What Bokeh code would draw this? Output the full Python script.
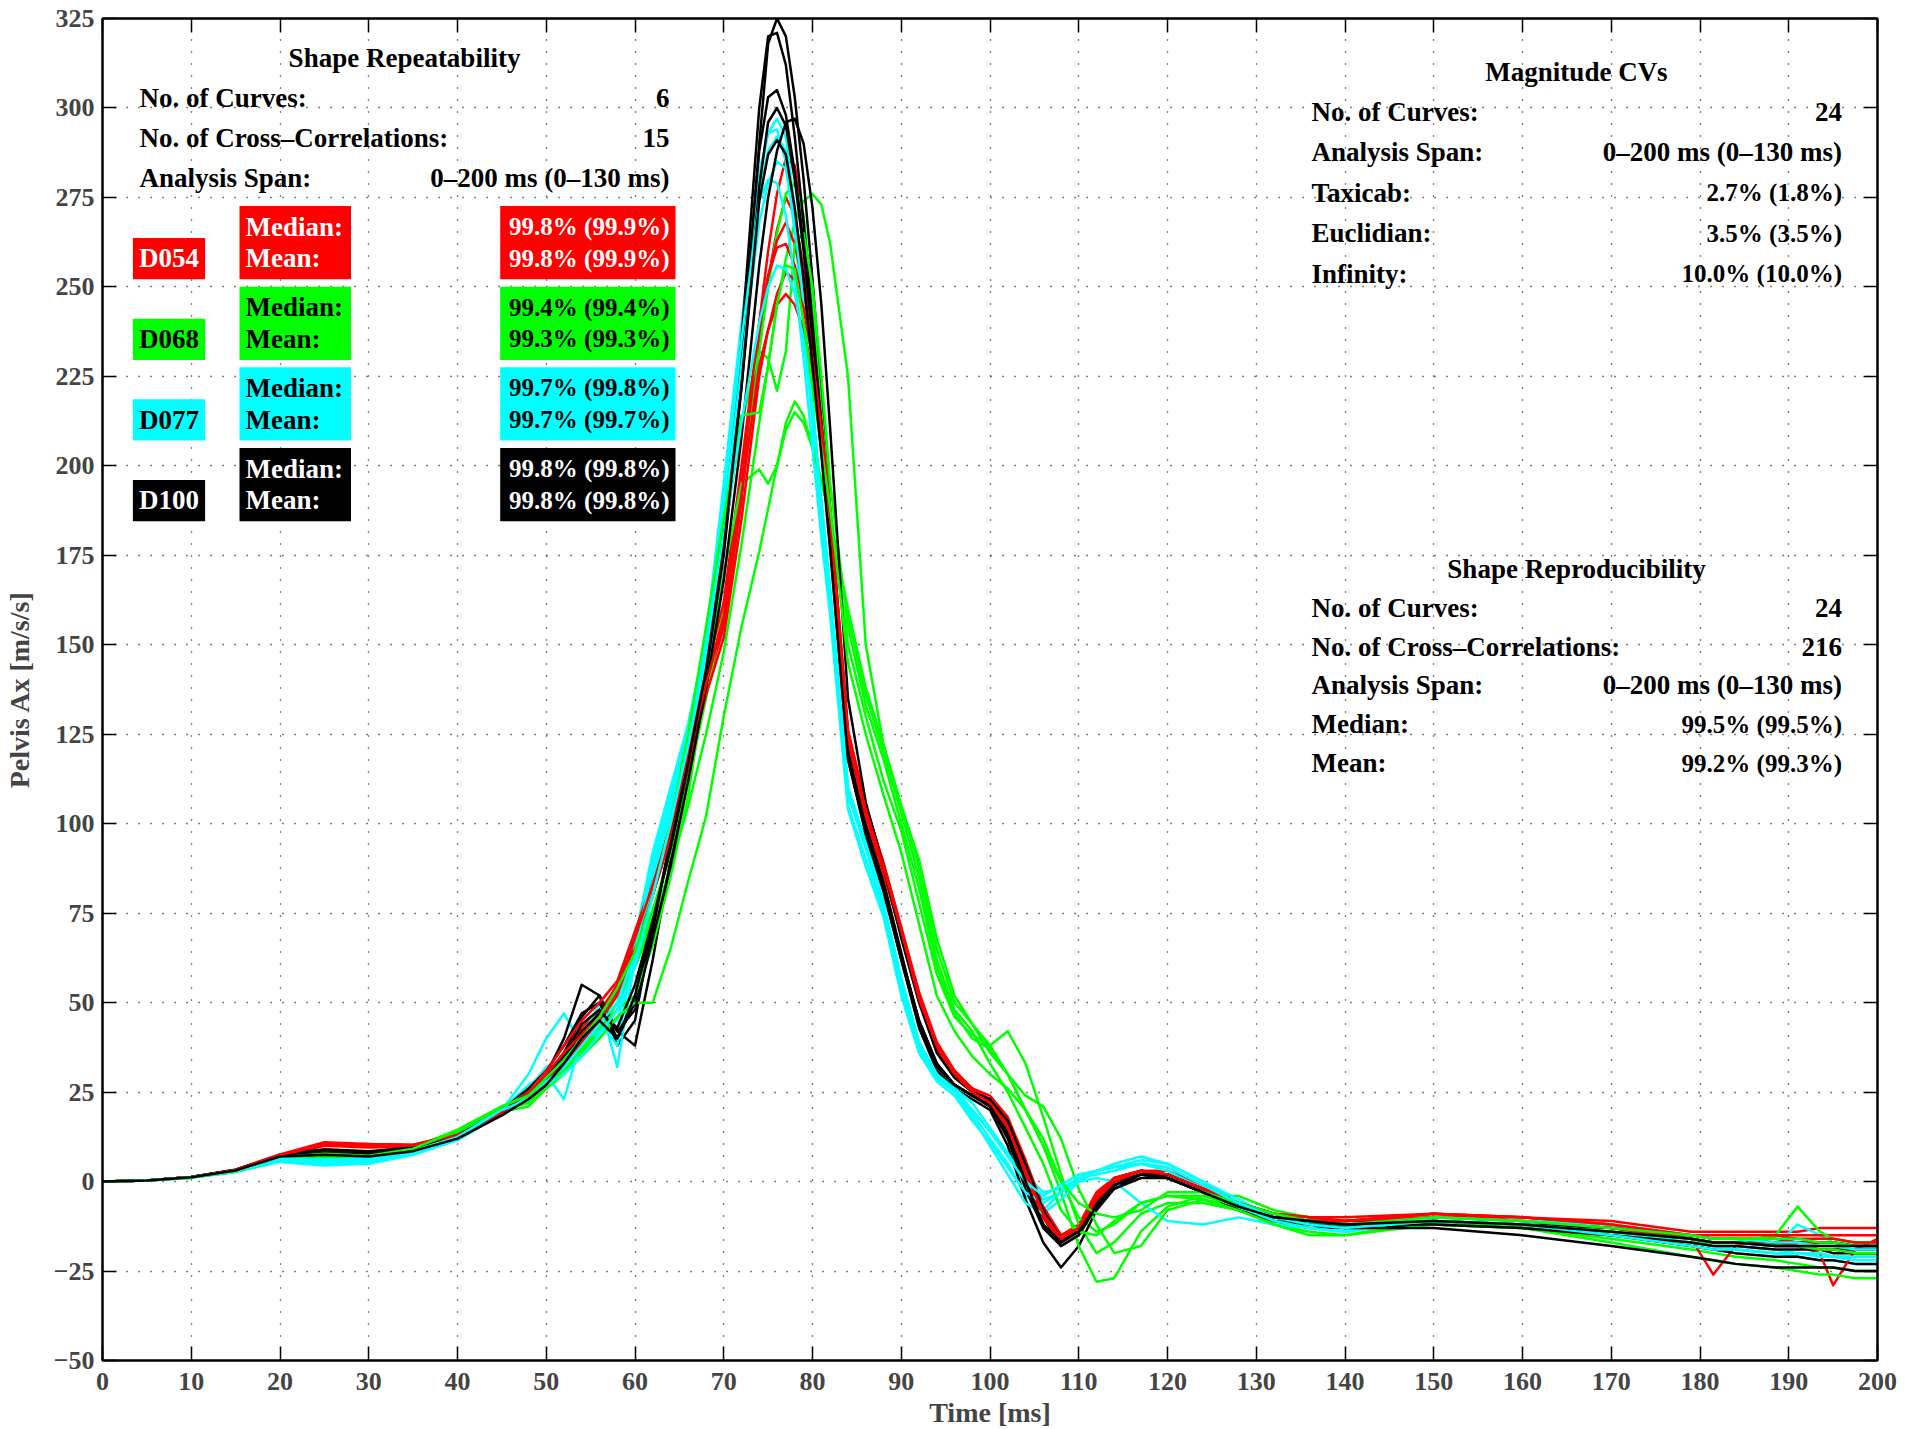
from bokeh.plotting import figure
from bokeh.models import LinearAxis, Range1d, FixedTicker, Label, BoxAnnotation
from bokeh.embed import file_html
from bokeh.resources import INLINE

# ---------------- data ----------------
T = [0, 5, 10, 15, 20, 25, 30, 35, 40, 45,
     48, 50, 52, 54, 56, 58,
     60, 62, 64, 66, 68,
     70, 72, 74, 75, 76, 77, 78, 79, 80, 81, 82,
     84, 86, 88, 90, 92, 94, 96, 98,
     100, 102, 104, 106, 108, 110, 112, 114, 117, 120,
     124, 128, 132, 136, 140,
     150, 160, 170, 179, 181.5, 184, 188.5, 191, 193.5, 195, 197.5, 200]

# D054 (red)
r1 = [0, 0.3, 1.3, 3.3, 7.5, 10.5, 10, 10, 13, 19,
      24, 29, 34, 40, 47, 55,
      68, 82, 98, 118, 138,
      155, 190, 240, 260, 276, 286, 284, 268, 242, 215, 188,
      125, 104, 88, 70, 52, 38, 30, 26,
      23, 17, 5, -8, -15, -12, -3, 1, 3, 2,
      -2, -7, -10, -11, -11,
      -9, -10, -11, -14, -14, -14, -14, -14, -13, -13, -13, -13]
r2 = [0, 0.3, 1.3, 3.2, 7.3, 10.2, 10.5, 10.2, 13, 19,
      25, 30, 36, 43, 48, 54,
      66, 80, 97, 117, 137,
      156, 192, 235, 252, 266, 275, 270, 255, 236, 212, 187,
      126, 105, 89, 71, 53, 39, 31, 26,
      23, 16, 3, -10, -17, -14, -5, 0, 3, 2,
      -2, -6, -9, -10, -10,
      -9, -10, -12, -16, -26, -18, -15, -15, -15, -15, -15, -15]
r3 = [0, 0.3, 1.2, 3.1, 7, 10, 9.5, 9.8, 12.8, 19,
      24, 29, 35, 42, 46, 53,
      64, 80, 98, 118, 140,
      158, 195, 238, 253, 263, 268, 262, 250, 234, 212, 188,
      124, 104, 88, 70, 51, 38, 30, 26,
      22, 15, 2, -10, -16, -13, -4, 1, 3, 2,
      -2, -7, -10, -11, -11,
      -9, -11, -13, -16, -17, -17, -17, -18, -20, -29, -19, -16]
r4 = [0, 0.3, 1.3, 3.3, 7.6, 11, 10.5, 10.3, 13.2, 19.5,
      25, 31, 38, 45, 50, 56,
      70, 84, 100, 120, 142,
      162, 200, 240, 253, 261, 262, 256, 246, 232, 211, 187,
      123, 102, 86, 69, 51, 37, 30, 25,
      22, 15, 3, -9, -16, -14, -6, 0, 3, 2,
      -2, -6, -9, -10, -11,
      -10, -10, -12, -15, -16, -16, -16, -17, -17, -17, -18, -18]
r5 = [0, 0.3, 1.2, 3.2, 7.2, 10.4, 9.8, 10, 12.8, 18.8,
      24, 28, 33, 39, 45, 52,
      65, 80, 96, 116, 136,
      152, 185, 225, 238, 248, 254, 252, 244, 230, 210, 186,
      126, 105, 89, 71, 52, 38, 31, 26,
      24, 18, 6, -7, -15, -13, -4, 1, 3, 3,
      -1, -6, -9, -10, -11,
      -10, -11, -13, -16, -17, -17, -18, -18, -19, -19, -20, -20]
r6 = [0, 0.3, 1.3, 3.2, 7.4, 10.8, 10.2, 10.1, 13, 19.2,
      25, 30, 36, 41, 46, 55,
      68, 83, 99, 119, 139,
      157, 192, 228, 238, 245, 248, 245, 238, 226, 208, 185,
      124, 104, 88, 70, 51, 38, 30, 25,
      22, 15, 3, -9, -16, -13, -5, 0, 3, 2,
      -2, -6, -9, -11, -11,
      -9, -10, -12, -15, -15, -15, -15, -16, -16, -16, -17, -17]

# D068 (green)
g1 = [0, 0.3, 1.1, 2.8, 6.5, 7.5, 7, 9, 14, 21,
      22, 27, 31, 36, 42, 50,
      60, 72, 88, 105, 125,
      148, 178, 212, 228, 245, 258, 268, 274, 276, 273, 262,
      225, 150, 122, 105, 90, 68, 52, 44,
      38, 30, 20, 12, 0, -10, -14, -12, -6, -4,
      -5, -7, -10, -12, -13,
      -11, -13, -16, -19, -20, -21, -22, -23, -24, -24, -25, -25]
g2 = [0, 0.3, 1.2, 3, 6.8, 8, 7.5, 9.5, 14.5, 21,
      24, 29, 33, 38, 44, 52,
      62, 76, 92, 112, 135,
      160, 195, 232, 250, 265, 276, 279, 270, 245, 215, 188,
      150, 130, 112, 98, 78, 58, 46, 41,
      38, 42, 33, 18, 2, -12, -20, -17, -9, -6,
      -6, -8, -12, -14, -15,
      -11, -12, -15, -18, -19, -19, -20, -20, -20, -21, -21, -21]
g3 = [0, 0.3, 1.1, 2.9, 6.5, 7, 7, 9, 14, 20.5,
      23, 28, 33, 38, 45, 52,
      60, 74, 92, 115, 145,
      180, 212, 232, 230, 221, 232, 262, 265, 250, 225, 195,
      155, 133, 118, 100, 82, 60, 47, 40,
      37, 30, 20, 10, -3, -18, -28, -27, -14, -7,
      -4, -4, -8, -10, -12,
      -12, -13, -17, -21, -22, -23, -24, -25, -26, -26, -27, -27]
g4 = [0, 0.3, 1.1, 2.8, 6.3, 7.2, 6.8, 8.8, 13.5, 20,
      22, 27, 32, 37, 43, 48,
      52, 66, 85, 108, 140,
      170, 195, 199, 195, 200, 212, 218, 214, 205, 196, 185,
      160, 138, 122, 105, 88, 65, 50, 44,
      36, 30, 24, 21, 12, -2, -12, -20, -18, -8,
      -5, -8, -12, -15, -15,
      -12, -13, -15, -17, -17, -17, -15, -7, -14, -16, -17, -17]
g5 = [0, 0.3, 1.1, 2.7, 6, 7, 6.5, 8.5, 13, 19.5,
      21, 26, 30, 35, 40, 46,
      50, 50, 65, 84, 102,
      130, 155, 176, 188, 200, 210, 215, 212, 205, 196, 185,
      158, 136, 120, 103, 85, 62, 48, 42,
      33, 25, 15, 5, -8, -14, -15, -11, -6, -4,
      -4, -7, -10, -12, -13,
      -11, -12, -14, -16, -17, -17, -18, -18, -19, -19, -20, -20]
g6 = [0, 0.3, 1.2, 3, 6.8, 7.8, 7.2, 9.2, 14.2, 21,
      24, 29, 34, 40, 46, 54,
      64, 80, 100, 125, 155,
      185, 214, 215, 228, 245, 256, 255, 240, 222, 205, 188,
      145, 125, 108, 92, 72, 52, 42, 35,
      30, 26, 20, 10, 0, -6, -9, -10, -8, -3,
      -3, -6, -9, -11, -12,
      -10, -11, -13, -15, -16, -16, -16, -16, -17, -17, -18, -18]

# D077 (cyan)
c1 = [0, 0.3, 1.1, 2.8, 6, 5, 5.5, 8, 12, 20,
      30, 40, 47, 38, 42, 48,
      68, 92, 110, 128, 152,
      195, 240, 280, 293, 297, 292, 272, 245, 216, 190, 165,
      108, 93, 77, 55, 37, 29, 25, 19,
      12, 5, -4, -8, -3, 1, 3, 4, 6, 5,
      0, -6, -10, -12, -13,
      -10, -11, -13, -16, -17, -17, -18, -12, -15, -17, -18, -18]
c2 = [0, 0.3, 1.2, 3, 6.5, 6, 6.5, 8.5, 12.5, 20,
      27, 30, 23, 40, 45, 38,
      66, 90, 108, 126, 150,
      192, 238, 282, 293, 294, 285, 265, 240, 212, 185, 160,
      105, 90, 76, 54, 38, 30, 26, 20,
      14, 8, 2, -3, -2, 1, 2, 3, 5, 4,
      -1, -6, -11, -13, -14,
      -11, -12, -14, -17, -18, -19, -20, -21, -22, -22, -23, -23]
c3 = [0, 0.3, 1.1, 2.7, 5.5, 4.5, 5, 7.5, 11.5, 19,
      26, 32, 35, 40, 50, 32,
      62, 86, 104, 124, 148,
      188, 232, 276, 288, 292, 288, 270, 245, 216, 188, 162,
      110, 95, 78, 57, 39, 30, 26, 22,
      15, 8, 0, -5, -3, 0, 1, 0, -6, -11,
      -12, -10, -12, -13, -14,
      -10, -11, -13, -15, -16, -16, -16, -17, -17, -17, -17, -17]
c4 = [0, 0.3, 1.2, 3, 6.2, 6.5, 7, 9, 13, 20,
      25, 30, 33, 40, 42, 45,
      62, 84, 103, 124, 148,
      185, 228, 268, 279, 285, 283, 268, 245, 218, 190, 165,
      110, 95, 78, 56, 39, 30, 25, 18,
      10, 2, -6, -9, -5, 0, 3, 5, 7, 5,
      0, -5, -10, -12, -13,
      -11, -12, -14, -17, -18, -18, -19, -20, -20, -21, -21, -21]
c5 = [0, 0.3, 1.1, 2.8, 6, 5.5, 6, 8, 12, 19.5,
      24, 28, 32, 38, 44, 50,
      64, 88, 106, 126, 150,
      190, 235, 274, 280, 279, 270, 252, 230, 205, 180, 158,
      104, 88, 74, 52, 36, 28, 24, 17,
      11, 4, -3, -6, -3, 1, 3, 4, 5, 3,
      -2, -7, -11, -13, -14,
      -10, -11, -12, -15, -16, -16, -17, -17, -18, -18, -19, -19]
c6 = [0, 0.3, 1.2, 3, 6.5, 6, 6.5, 8.5, 12.5, 20,
      23, 27, 30, 35, 41, 48,
      60, 80, 100, 122, 146,
      180, 212, 240, 250, 256, 255, 248, 235, 215, 190, 165,
      110, 94, 77, 55, 38, 29, 25, 20,
      14, 7, 0, -4, -1, 2, 3, 4, 5, 4,
      -1, -6, -10, -12, -13,
      -11, -12, -15, -18, -19, -19, -20, -20, -21, -21, -22, -22]

# D100 (black)
k1 = [0, 0.3, 1.3, 3.2, 7, 8.5, 8, 9.5, 13, 20,
      25, 30, 40, 55, 52, 38,
      45, 72, 95, 118, 145,
      178, 225, 290, 318, 325, 320, 303, 280, 252, 220, 185,
      122, 100, 84, 64, 44, 32, 27, 24,
      22, 15, 2, -10, -18, -15, -6, -1, 2, 1,
      -3, -8, -11, -12, -12,
      -11, -12, -14, -16, -17, -17, -18, -18, -19, -19, -19, -19]
k2 = [0, 0.3, 1.2, 3, 6.5, 8, 7.5, 9, 12.5, 19,
      24, 29, 36, 46, 52, 42,
      38, 62, 90, 117, 145,
      182, 235, 300, 320, 321, 312, 292, 268, 240, 210, 178,
      118, 98, 82, 62, 43, 31, 26, 23,
      20, 10, -5, -17, -24, -18, -8, -2, 2, 1,
      -3, -8, -11, -13, -13,
      -12, -13, -15, -18, -19, -20, -21, -21, -22, -22, -23, -23]
k3 = [0, 0.3, 1.3, 3.3, 7.5, 9, 8.5, 9.5, 13.5, 20,
      26, 31, 38, 47, 50, 40,
      50, 70, 96, 120, 148,
      185, 232, 288, 303, 305, 298, 282, 262, 238, 212, 182,
      120, 99, 83, 63, 45, 33, 27, 24,
      22, 14, 0, -12, -17, -13, -5, 0, 2, 1,
      -3, -7, -10, -11, -11,
      -11, -12, -13, -15, -16, -16, -17, -17, -17, -17, -18, -18]
k4 = [0, 0.3, 1.2, 3, 6.8, 7.5, 7.5, 9, 12.5, 19,
      24, 28, 34, 42, 47, 43,
      55, 73, 93, 116, 142,
      175, 222, 278, 296, 300, 295, 280, 260, 236, 208, 180,
      120, 98, 82, 63, 45, 33, 27, 24,
      21, 12, -2, -13, -18, -15, -7, -1, 2, 2,
      -2, -7, -10, -11, -12,
      -12, -13, -15, -17, -18, -18, -19, -19, -19, -20, -20, -20]
k5 = [0, 0.3, 1.3, 3.2, 7.2, 8, 8, 9.5, 13, 19.5,
      25, 29, 35, 44, 48, 42,
      48, 68, 88, 112, 138,
      168, 208, 256, 275, 288, 296, 297, 290, 272, 245, 210,
      135, 106, 88, 68, 50, 36, 29, 25,
      23, 17, 5, -8, -16, -14, -6, -1, 2, 2,
      -2, -6, -10, -12, -13,
      -13, -15, -18, -21, -22, -23, -24, -24, -24, -24, -25, -25]
k6 = [0, 0.3, 1.2, 3.1, 7, 7.5, 7, 8.5, 12, 18.5,
      23, 27, 33, 40, 45, 40,
      52, 72, 94, 117, 143,
      177, 222, 274, 287, 291, 287, 272, 252, 228, 203, 176,
      118, 97, 81, 62, 44, 33, 27, 24,
      21, 13, 0, -12, -17, -14, -7, -2, 1, 1,
      -3, -7, -10, -11, -12,
      -11, -12, -14, -16, -17, -17, -18, -18, -18, -18, -18, -18]

subjects = ["D054", "D068", "D077", "D100"]
subject_colors = ["#ff0000", "#00ff00", "#00ffff", "#000000"]
subject_text_colors = ["white", "black", "black", "white"]
subject_curves = [[r1, r2, r3, r4, r5, r6],
                  [g1, g2, g3, g4, g5, g6],
                  [c1, c2, c3, c4, c5, c6],
                  [k1, k2, k3, k4, k5, k6]]
rep_median = ["99.8% (99.9%)", "99.4% (99.4%)", "99.7% (99.8%)", "99.8% (99.8%)"]
rep_mean = ["99.8% (99.9%)", "99.3% (99.3%)", "99.7% (99.7%)", "99.8% (99.8%)"]

rep_rows = [("No. of Curves:", "6"),
            ("No. of Cross\u2013Correlations:", "15"),
            ("Analysis Span:", "0\u2013200 ms (0\u2013130 ms)")]
mag_rows = [("No. of Curves:", "24"),
            ("Analysis Span:", "0\u2013200 ms (0\u2013130 ms)"),
            ("Taxicab:", "2.7% (1.8%)"),
            ("Euclidian:", "3.5% (3.5%)"),
            ("Infinity:", "10.0% (10.0%)")]
repro_rows = [("No. of Curves:", "24"),
              ("No. of Cross\u2013Correlations:", "216"),
              ("Analysis Span:", "0\u2013200 ms (0\u2013130 ms)"),
              ("Median:", "99.5% (99.5%)"),
              ("Mean:", "99.2% (99.3%)")]

x_ticks = list(range(0, 201, 10))
y_ticks = list(range(-50, 326, 25))

# ---------------- figure ----------------
FONT = "Liberation Serif"
p = figure(frame_width=1775, frame_height=1342,
           x_range=Range1d(0, 200), y_range=Range1d(-50, 325),
           output_backend="svg", toolbar_location=None,
           min_border_left=102, min_border_right=28, min_border_top=18,
           min_border_bottom=64,
           background_fill_color="white", border_fill_color="white")
p.outline_line_color = "black"
p.outline_line_width = 2

for ax, ticks in ((p.xaxis[0], x_ticks), (p.yaxis[0], y_ticks)):
    ax.ticker = FixedTicker(ticks=ticks)
    ax.major_tick_in = 14
    ax.major_tick_out = 0
    ax.minor_tick_line_color = None
    ax.axis_line_width = 2
    ax.major_tick_line_width = 1.5
    ax.major_label_text_font = FONT
    ax.major_label_text_font_style = "bold"
    ax.major_label_text_font_size = "26px"
    ax.axis_label_text_font = FONT
    ax.axis_label_text_font_style = "bold"
    ax.axis_label_text_font_size = "28px"
p.yaxis[0].major_label_overrides = {v: ("\u2212" + str(-v) if v < 0 else str(v)) for v in y_ticks}
p.xaxis[0].axis_label = "Time [ms]"
p.yaxis[0].axis_label = "Pelvis Ax [m/s/s]"
p.xaxis[0].major_label_standoff = 12
p.yaxis[0].major_label_standoff = 8
p.xaxis[0].axis_label_standoff = 4
p.yaxis[0].axis_label_standoff = 16

for loc, ticks in (("above", x_ticks), ("right", y_ticks)):
    ax = LinearAxis(ticker=FixedTicker(ticks=ticks), major_label_text_font_size="1px",
                    major_label_text_color=None,
                    major_label_standoff=0, major_tick_in=14, major_tick_out=0,
                    minor_tick_line_color=None, axis_line_width=2,
                    major_tick_line_width=1.5)
    p.add_layout(ax, loc)

for g, ticks in ((p.xgrid[0], x_ticks), (p.ygrid[0], y_ticks)):
    g.ticker = FixedTicker(ticks=ticks)
    g.grid_line_color = "black"
    g.grid_line_dash = "1 11"
    g.grid_line_width = 1.3

# curves, interleaved by test number
for i in range(6):
    for s in range(4):
        p.line(T, subject_curves[s][i], line_color=subject_colors[s],
               line_width=2.5, line_join="round")

# ---------------- annotations ----------------
def px_t(x):   # screenshot x (px) -> time
    return (x - 102) / 8.875

def px_v(y):   # screenshot y (px) -> value
    return 325 - (y - 18) / 3.578

def txt(x, y, s, align="left", color="black", size="27px"):
    p.add_layout(Label(x=x, y=y, text=s, text_align=align, text_baseline="middle",
                       text_color=color, text_font=FONT, text_font_style="bold",
                       text_font_size=size))

PCT = "25px"
LINE = 40.4 / 3.578
# Shape repeatability block
txt(px_t(404), px_v(57), "Shape Repeatability", align="center")
for j, (a, b) in enumerate(rep_rows):
    y = px_v(97) - j * LINE
    txt(px_t(139), y, a)
    txt(px_t(669), y, b, align="right")

for s in range(4):
    top_px = 205.5 + s * 80.6
    top, bot = px_v(top_px), px_v(top_px + 73.3)
    col, tcol = subject_colors[s], subject_text_colors[s]
    p.add_layout(BoxAnnotation(left=px_t(239), right=px_t(350.5), top=top, bottom=bot,
                               fill_color=col, fill_alpha=1, line_color=None))
    p.add_layout(BoxAnnotation(left=px_t(499.7), right=px_t(675), top=top, bottom=bot,
                               fill_color=col, fill_alpha=1, line_color=None))
    p.add_layout(BoxAnnotation(left=px_t(132.4), right=px_t(204.6), top=px_v(top_px + 32),
                               bottom=bot, fill_color=col, fill_alpha=1, line_color=None))
    txt(px_t(245), px_v(top_px + 20.7), "Median:", color=tcol)
    txt(px_t(245), px_v(top_px + 52.3), "Mean:", color=tcol)
    txt(px_t(669), px_v(top_px + 20.7), rep_median[s], align="right", color=tcol, size=PCT)
    txt(px_t(669), px_v(top_px + 52.3), rep_mean[s], align="right", color=tcol, size=PCT)
    txt(px_t(138.6), px_v(top_px + 52.3), subjects[s], color=tcol)

# Magnitude CVs block
txt(px_t(1576), px_v(71.7), "Magnitude CVs", align="center")
for j, (a, b) in enumerate(mag_rows):
    y = px_v(111.5) - j * LINE
    txt(px_t(1311), y, a)
    txt(px_t(1841.5), y, b, align="right", size=PCT if "%" in b else "27px")

# Shape reproducibility block
txt(px_t(1576), px_v(568), "Shape Reproducibility", align="center")
for j, (a, b) in enumerate(repro_rows):
    y = px_v(607) - j * (38.9 / 3.578)
    txt(px_t(1311), y, a)
    txt(px_t(1841.5), y, b, align="right", size=PCT if "%" in b else "27px")

open("out.html", "w").write(file_html(p, INLINE))
